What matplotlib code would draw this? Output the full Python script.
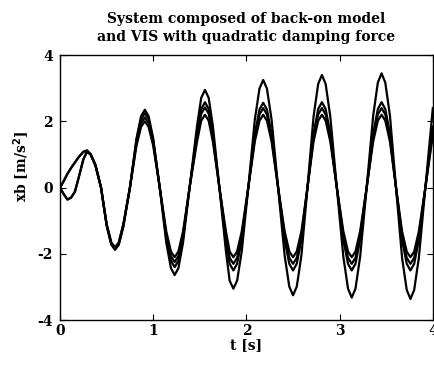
import matplotlib
matplotlib.use("Agg")
import matplotlib.pyplot as plt

# time samples [s]
t = [0.00, 0.04, 0.08, 0.12, 0.16, 0.20, 0.25,
     0.29, 0.33, 0.38, 0.44, 0.50, 0.55,
     0.59, 0.63, 0.68, 0.75, 0.82, 0.87,
     0.91, 0.95, 1.00, 1.07, 1.14, 1.19,
     1.23, 1.27, 1.32, 1.39, 1.47, 1.515,
     1.555, 1.595, 1.64, 1.71, 1.78, 1.82,
     1.86, 1.90, 1.95, 2.02, 2.09, 2.14,
     2.18, 2.22, 2.27, 2.34, 2.41, 2.46,
     2.50, 2.54, 2.59, 2.655, 2.72, 2.77,
     2.81, 2.85, 2.90, 2.97, 3.04, 3.09,
     3.13, 3.17, 3.22, 3.29, 3.36, 3.41,
     3.45, 3.49, 3.54, 3.605, 3.67, 3.72,
     3.76, 3.80, 3.85, 3.92, 4.00]

# xb [m/s^2] for the four damping cases
xb_1 = [0.00, -0.20, -0.36, -0.30, -0.12, 0.30, 0.85,
        1.10, 1.00, 0.68, 0.00, -1.15, -1.72,
        -1.88, -1.73, -1.18, 0.00, 1.48, 2.16,
        2.35, 2.16, 1.48, 0.00, -1.66, -2.43,
        -2.64, -2.43, -1.66, 0.00, 1.86, 2.71,
        2.95, 2.71, 1.86, 0.00, -1.92, -2.81,
        -3.05, -2.81, -1.92, 0.00, 2.05, 2.99,
        3.25, 2.99, 2.05, 0.00, -2.05, -2.99,
        -3.25, -2.99, -2.05, 0.00, 2.14, 3.13,
        3.40, 3.13, 2.14, 0.00, -2.09, -3.05,
        -3.32, -3.05, -2.09, 0.00, 2.17, 3.17,
        3.45, 3.17, 2.17, 0.00, -2.12, -3.09,
        -3.36, -3.09, -2.12, 0.00, 2.40]

xb_2 = [0.00, 0.20, 0.42, 0.60, 0.76, 0.92, 1.08,
        1.12, 1.00, 0.68, 0.00, -1.13, -1.70,
        -1.85, -1.70, -1.13, 0.00, 1.42, 2.07,
        2.25, 2.07, 1.42, 0.00, -1.51, -2.21,
        -2.40, -2.21, -1.51, 0.00, 1.63, 2.37,
        2.58, 2.37, 1.63, 0.00, -1.58, -2.30,
        -2.50, -2.30, -1.58, 0.00, 1.61, 2.36,
        2.56, 2.36, 1.61, 0.00, -1.58, -2.30,
        -2.50, -2.30, -1.58, 0.00, 1.63, 2.37,
        2.58, 2.37, 1.63, 0.00, -1.58, -2.30,
        -2.50, -2.30, -1.58, 0.00, 1.63, 2.37,
        2.58, 2.37, 1.63, 0.00, -1.58, -2.30,
        -2.50, -2.30, -1.58, 0.00, 1.85]

xb_3 = [0.00, -0.20, -0.36, -0.30, -0.12, 0.30, 0.85,
        1.08, 0.99, 0.67, 0.00, -1.11, -1.67,
        -1.82, -1.67, -1.11, 0.00, 1.34, 1.95,
        2.12, 1.95, 1.34, 0.00, -1.42, -2.07,
        -2.25, -2.07, -1.42, 0.00, 1.52, 2.23,
        2.42, 2.23, 1.52, 0.00, -1.45, -2.12,
        -2.30, -2.12, -1.45, 0.00, 1.51, 2.21,
        2.40, 2.21, 1.51, 0.00, -1.45, -2.12,
        -2.30, -2.12, -1.45, 0.00, 1.51, 2.21,
        2.40, 2.21, 1.51, 0.00, -1.45, -2.12,
        -2.30, -2.12, -1.45, 0.00, 1.51, 2.21,
        2.40, 2.21, 1.51, 0.00, -1.45, -2.12,
        -2.30, -2.12, -1.45, 0.00, 1.72]

xb_4 = [0.00, 0.20, 0.42, 0.60, 0.76, 0.92, 1.08,
        1.12, 1.00, 0.67, 0.00, -1.10, -1.66,
        -1.80, -1.66, -1.10, 0.00, 1.26, 1.84,
        2.00, 1.84, 1.26, 0.00, -1.32, -1.93,
        -2.10, -1.93, -1.32, 0.00, 1.39, 2.02,
        2.20, 2.02, 1.39, 0.00, -1.32, -1.93,
        -2.10, -1.93, -1.32, 0.00, 1.39, 2.02,
        2.20, 2.02, 1.39, 0.00, -1.32, -1.93,
        -2.10, -1.93, -1.32, 0.00, 1.39, 2.02,
        2.20, 2.02, 1.39, 0.00, -1.32, -1.93,
        -2.10, -1.93, -1.32, 0.00, 1.39, 2.02,
        2.20, 2.02, 1.39, 0.00, -1.32, -1.93,
        -2.10, -1.93, -1.32, 0.00, 1.58]

x_ticks = [0, 1, 2, 3, 4]
y_ticks = [-4, -2, 0, 2, 4]

plt.rcParams['font.family'] = ['DejaVu Serif']
plt.rcParams['font.weight'] = 'bold'

fig = plt.figure(figsize=(4.35, 3.65), dpi=100)
ax = fig.add_axes([0.138, 0.123, 0.857, 0.726])

for series in (xb_1, xb_2, xb_3, xb_4):
    ax.plot(t, series, color='black', lw=1.6)

ax.set_xlim(0, 4)
ax.set_ylim(-4, 4)
ax.set_xticks(x_ticks)
ax.set_yticks(y_ticks)
ax.set_xticklabels([str(v) for v in x_ticks], fontsize=10, fontweight='bold')
ax.set_yticklabels([str(v) for v in y_ticks], fontsize=10, fontweight='bold')
ax.tick_params(direction='in', top=True, right=True, length=4, width=0.8)
ax.tick_params(axis='x', pad=3)
ax.tick_params(axis='y', pad=5)
for s in ax.spines.values():
    s.set_linewidth(1.0)

ax.set_xlabel('t [s]', fontsize=10, fontweight='bold', labelpad=0)
ax.set_ylabel(r'xb [m/s$^2$]', fontsize=10, fontweight='bold')
ax.yaxis.set_label_coords(-0.075, 0.58)
ax.set_title('System composed of back-on model\nand VIS with quadratic damping force',
             fontsize=10, fontweight='bold', pad=10, linespacing=1.37)

fig.savefig('out.png', dpi=100)
